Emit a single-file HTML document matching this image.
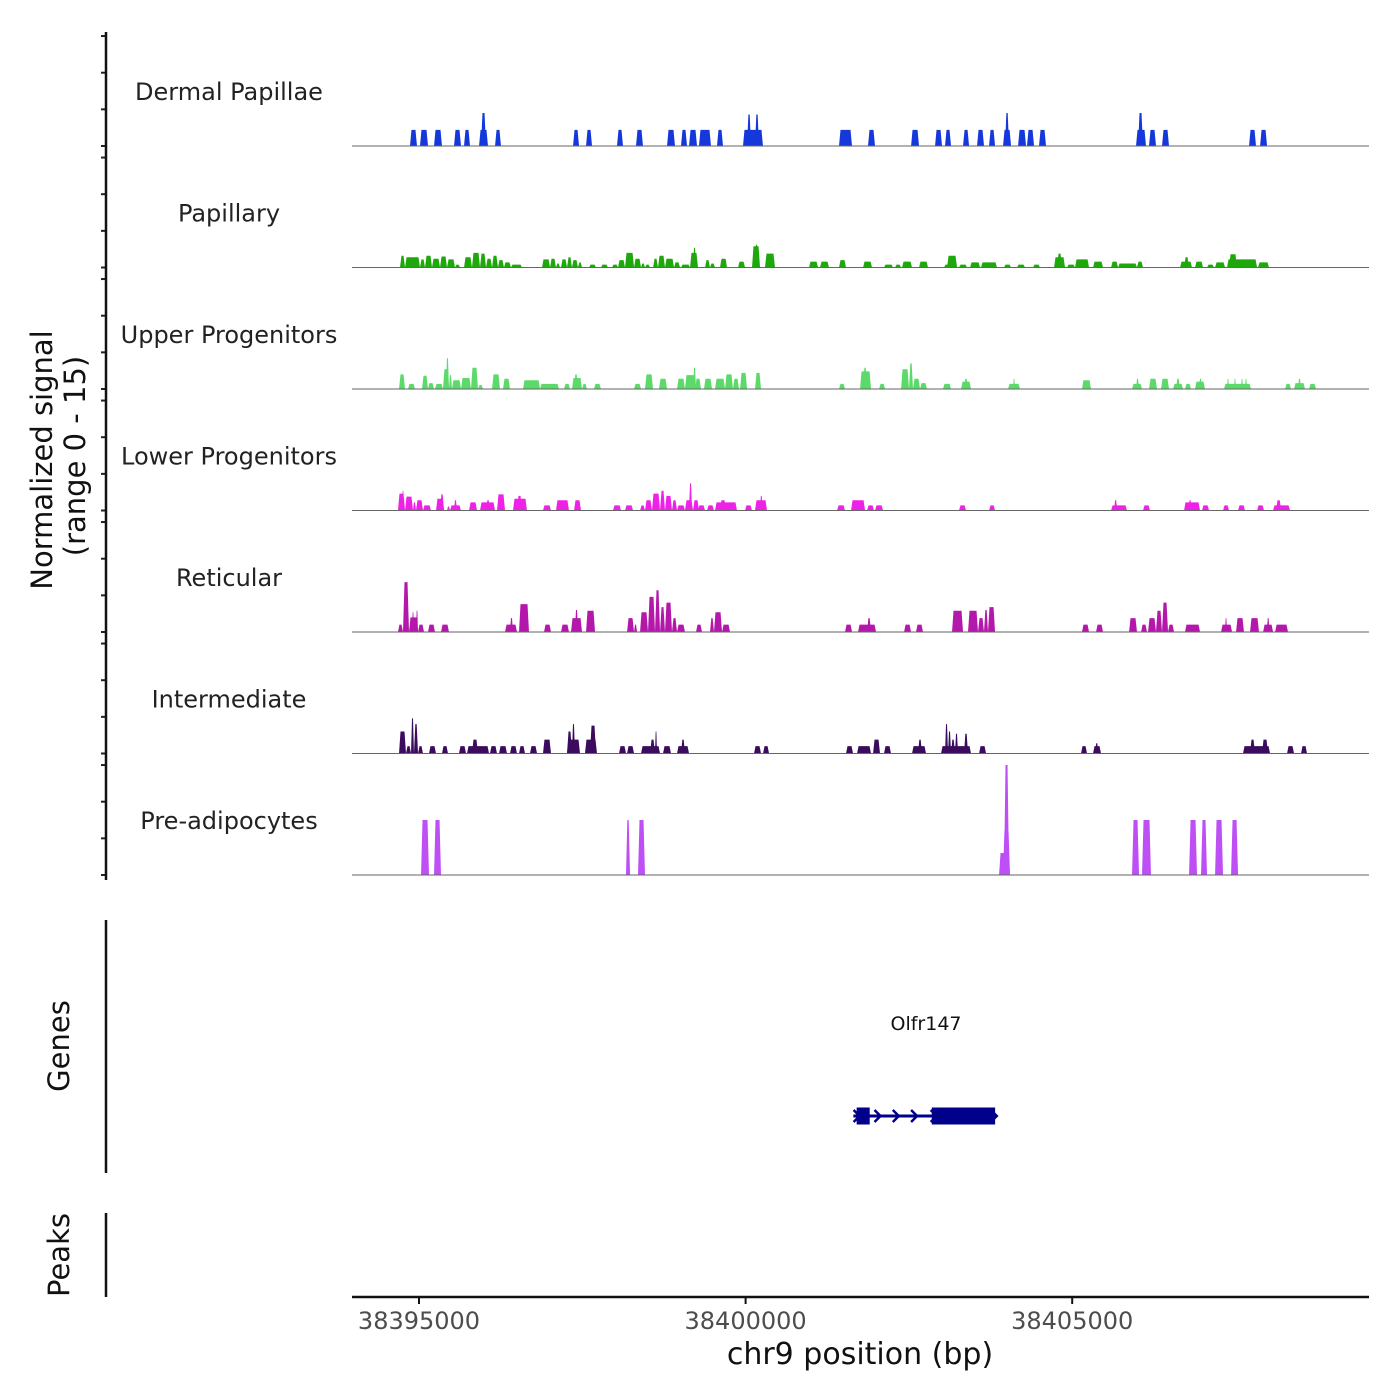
<!DOCTYPE html>
<html><head><meta charset="utf-8"><style>
html,body{margin:0;padding:0;background:#fff;}
svg{display:block;font-family:"DejaVu Sans","Liberation Sans",sans-serif;}
</style></head><body>
<svg id="chart" width="1400" height="1400" viewBox="0 0 1400 1400">
<g id="tracks"></g>
<g id="axes"></g>
</svg>
<script>
// ---- data (genomic offsets in bp relative to regionOrigin, signal 0-15) ----
const regionOrigin = 38395000;
const xTickValues = [38395000, 38400000, 38405000];
const xTickLabels = ["38395000", "38400000", "38405000"];
const yTickValues = [0, 5, 10, 15];
const trackNames = ["Dermal Papillae","Papillary","Upper Progenitors","Lower Progenitors","Reticular","Intermediate","Pre-adipocytes"];
const trackColors = ["#1538DB","#1EA80C","#5BDA6A","#EE22E6","#B418AA","#3B0C5E","#BE4FF5"];

const dermalPapillae = [[-138,-31,2.2],[15,138,2.2],[230,352,2.2],[536,643,2.2],[689,781,2.2],[919,1056,2.2],[949,1026,4.5],[1164,1255,2.2],[2358,2450,2.2],[2557,2649,2.2],[3031,3123,2.2],[3322,3429,2.2],[3797,3919,2.2],[4011,4103,2.2],[4134,4256,2.2],[4286,4470,2.2],[4562,4654,2.2],[4960,5266,2.2],[5022,5083,4.3],[5144,5205,4.3],[6430,6629,2.2],[6874,6981,2.2],[7533,7655,2.2],[7900,8007,2.2],[8053,8145,2.2],[8329,8421,2.2],[8543,8650,2.2],[8727,8819,2.2],[8941,9064,2.2],[8972,9033,4.5],[9171,9293,2.2],[9308,9416,2.2],[9492,9599,2.2],[10977,11130,2.2],[11008,11084,4.5],[11176,11283,2.2],[11375,11482,2.2],[12707,12814,2.2],[12876,12983,2.2]];

const papillary = [[-291,-214,1.6],[-214,15,1.4],[15,92,1.1],[92,199,1.6],[199,322,1.2],[322,429,1.5],[429,551,1.1],[551,628,0.4],[689,811,1.4],[811,934,2.0],[934,1026,1.9],[1026,1118,1.2],[1118,1209,1.6],[1209,1301,1.0],[1301,1408,0.7],[1408,1577,0.4],[1883,2006,1.1],[2006,2097,1.2],[2097,2159,0.55],[2174,2266,1.1],[2266,2342,1.4],[2342,2434,1.0],[2434,2496,0.7],[2603,2710,0.4],[2786,2893,0.4],[2955,3047,0.4],[3047,3154,1.0],[3154,3292,2.0],[3292,3399,1.2],[3399,3460,0.55],[3460,3537,0.4],[3583,3659,1.2],[3659,3766,1.6],[3766,3904,1.2],[3904,3996,0.7],[4011,4149,0.4],[4149,4271,2.0],[4195,4241,2.7],[4379,4455,1.0],[4455,4532,0.55],[4608,4716,1.2],[4884,4991,0.8],[5098,5221,2.9],[5144,5190,3.1],[5297,5450,1.9],[5971,6109,0.8],[6139,6277,0.8],[6430,6537,1.0],[6798,6936,0.8],[7119,7257,0.4],[7288,7380,0.4],[7395,7548,0.8],[7655,7793,0.8],[8038,8130,0.4],[8084,8237,1.6],[8267,8390,0.4],[8436,8589,0.7],[8604,8849,0.7],[8956,9064,0.4],[9155,9278,0.4],[9400,9507,0.4],[9722,9890,1.4],[9768,9844,1.9],[9921,10043,0.4],[10043,10258,1.1],[10319,10472,0.8],[10595,10702,0.8],[10702,10992,0.55],[10992,11084,0.8],[11651,11834,0.8],[11712,11789,1.4],[11880,12003,0.8],[12064,12171,0.4],[12187,12340,0.7],[12370,12830,1.1],[12401,12523,1.8],[12845,13013,0.7]];

const upperProgenitors = [[-306,-214,2.0],[-168,-61,0.7],[46,138,1.8],[138,230,0.8],[245,367,0.7],[367,459,2.7],[413,459,4.2],[459,505,1.9],[505,643,1.2],[643,796,1.5],[796,903,2.9],[903,980,0.55],[1118,1240,2.0],[1286,1393,1.4],[1592,1853,1.2],[1853,2143,0.7],[2220,2312,0.7],[2342,2496,1.5],[2373,2434,2.0],[2496,2572,0.7],[2679,2786,0.7],[3292,3399,0.7],[3460,3583,2.0],[3674,3797,1.4],[3950,4072,1.4],[4072,4226,1.9],[4195,4241,2.9],[4226,4317,1.4],[4363,4486,1.4],[4532,4685,1.4],[4685,4807,2.0],[4807,4899,1.4],[4915,5022,2.2],[5144,5236,2.2],[6430,6522,0.7],[6752,6920,2.4],[6798,6859,2.9],[7043,7135,0.7],[7380,7502,2.7],[7502,7563,3.5],[7563,7670,1.4],[7670,7777,0.8],[8022,8145,0.7],[8298,8451,1.0],[8344,8405,1.4],[9018,9201,0.7],[9094,9124,1.4],[10150,10288,1.2],[10916,11069,0.7],[10977,11023,1.4],[11176,11298,1.4],[11360,11482,1.4],[11543,11697,0.7],[11589,11651,1.4],[11727,11819,0.7],[11880,12033,1.0],[11941,11987,1.4],[12324,12738,0.7],[12370,12401,1.4],[12478,12508,1.4],[12585,12615,1.4],[12646,12676,1.4],[13259,13350,0.7],[13396,13564,0.8],[13457,13503,1.4],[13626,13733,0.7]];

const lowerProgenitors = [[-322,-214,2.3],[-260,-230,2.7],[-214,-92,1.9],[-92,-46,1.1],[-46,61,1.4],[61,184,0.7],[260,383,1.6],[322,383,2.2],[429,475,0.55],[475,643,0.7],[535,582,1.4],[766,888,1.1],[934,1164,1.1],[1026,1087,1.4],[1194,1317,2.2],[1439,1653,1.6],[1500,1577,2.0],[1898,2021,0.7],[2097,2296,1.4],[2373,2480,1.4],[2970,3093,0.7],[3154,3277,0.7],[3384,3460,0.7],[3460,3567,1.4],[3567,3690,2.3],[3690,3766,2.7],[3766,3873,2.0],[3873,3950,1.4],[3950,4072,0.7],[4072,4195,1.4],[4134,4180,3.7],[4195,4287,1.4],[4271,4379,0.7],[4409,4516,0.7],[4532,4868,1.1],[4607,4700,1.4],[4991,5098,0.7],[5144,5328,1.4],[5220,5260,2.0],[6400,6522,0.7],[6614,6829,1.4],[6859,6966,0.7],[6981,7104,0.7],[8267,8375,0.7],[8727,8819,0.7],[10595,10839,0.7],[10640,10690,1.4],[11084,11191,0.7],[11712,11957,1.1],[11780,11830,1.4],[11987,12095,0.7],[12309,12401,0.7],[12539,12646,0.7],[12830,12937,0.7],[13075,13335,0.7],[13120,13200,1.4]];

const reticular = [[-322,-245,1.0],[-245,-153,6.8],[-153,-15,2.0],[-107,-77,2.7],[-46,-15,2.9],[-15,77,1.0],[138,245,1.0],[337,459,1.0],[1317,1500,1.0],[1393,1439,1.9],[1531,1684,3.8],[1914,2021,1.0],[2174,2296,1.0],[2327,2496,1.9],[2388,2434,3.0],[2557,2695,2.9],[3185,3292,1.9],[3292,3338,1.0],[3384,3506,2.7],[3506,3613,4.8],[3613,3690,5.7],[3690,3766,3.4],[3766,3873,4.0],[3873,3950,1.9],[3950,4072,1.0],[4241,4333,1.0],[4455,4516,1.9],[4516,4639,2.7],[4639,4762,1.0],[6522,6630,1.0],[6721,6997,1.0],[6860,6920,1.9],[7426,7533,1.0],[7609,7716,1.0],[8160,8329,2.9],[8405,8558,2.9],[8558,8650,1.9],[8650,8711,3.0],[8711,8819,3.4],[10150,10258,1.0],[10365,10472,1.0],[10870,10992,1.9],[11054,11145,1.0],[11161,11283,1.9],[11283,11375,2.9],[11375,11467,4.0],[11467,11559,1.0],[11727,11957,1.0],[12279,12447,1.0],[12340,12370,1.9],[12508,12630,1.9],[12722,12860,1.9],[12922,13075,1.0],[12980,13020,1.9],[13106,13304,1.0]];

const intermediate = [[-306,-199,3.0],[-199,-122,1.0],[-122,-77,4.8],[-77,-15,4.0],[-15,61,1.0],[153,260,1.0],[352,444,1.0],[612,720,1.0],[735,1072,1.0],[811,903,1.9],[1087,1194,1.0],[1225,1347,1.0],[1393,1500,1.0],[1531,1623,1.0],[1699,1807,1.0],[1898,2021,1.9],[2266,2465,1.9],[2266,2342,3.0],[2342,2388,4.0],[2541,2725,1.9],[2618,2710,3.8],[3062,3169,1.0],[3185,3292,1.0],[3399,3690,1.0],[3537,3613,1.9],[3613,3644,3.0],[3736,3858,1.0],[3950,4134,1.0],[4011,4072,1.9],[5129,5236,1.0],[5267,5359,1.0],[6537,6645,1.0],[6706,6920,1.0],[6951,7058,1.9],[7119,7226,1.0],[7548,7762,1.0],[7640,7700,1.9],[7992,8451,1.0],[8053,8099,4.0],[8099,8145,3.0],[8145,8206,1.9],[8206,8252,2.7],[8344,8405,2.7],[8574,8681,1.0],[10135,10227,1.0],[10319,10441,1.0],[10350,10400,1.4],[12615,13029,1.0],[12722,12799,1.9],[12906,12998,1.9],[13289,13396,1.0],[13503,13595,1.0]];

const preAdipocytes = [[31,153,7.5],[230,337,7.5],[3169,3231,7.5],[3353,3460,7.5],[8880,9048,3.0],[8940,9048,6.0],[8956,9033,15],[10916,11023,7.5],[11069,11206,7.5],[11789,11911,7.5],[11972,12064,7.5],[12187,12309,7.5],[12432,12539,7.5]];

const trackData = [dermalPapillae, papillary, upperProgenitors, lowerProgenitors, reticular, intermediate, preAdipocytes];

const geneName = "Olfr147";
const geneStart = 38401650;
const geneEnd = 38403850;
const geneExons = [[38401700, 38401900], [38402850, 38403820]];

// ---- scales ----
const NS = "http://www.w3.org/2000/svg";
const plotLeft = 352, plotRight = 1369;
const pxPerBp = 326.6 / 5000;
function xScale(bp){ return 419 + (bp - 38395000) * pxPerBp; }
const firstBaseline = 146, trackStep = 121.5, pxPerUnit = 7.33;
function baseline(i){ return firstBaseline + i * trackStep; }
function yScale(i, v){ return baseline(i) - v * pxPerUnit; }

function mk(tag, attrs, parent){
  const el = document.createElementNS(NS, tag);
  for (const k in attrs) el.setAttribute(k, attrs[k]);
  parent.appendChild(el);
  return el;
}
const tracksG = document.getElementById('tracks');
const axesG = document.getElementById('axes');

trackData.forEach((segs, i) => {
  const g = mk('g', {}, tracksG);
  
  
  segs.forEach(s => {
    const x0 = xScale(regionOrigin + s[0]), x1 = xScale(regionOrigin + s[1]);
    const b = baseline(i), t = yScale(i, s[2]);
    const inset = Math.min(1.5, (x1 - x0) / 3);
    const p = mk('polygon', {points: `${x0},${b} ${x0+inset},${t} ${x1-inset},${t} ${x1},${b}`, fill: trackColors[i]}, g);
    
    
  });
  const bl = mk('line', {x1: plotLeft, x2: plotRight, y1: baseline(i), y2: baseline(i), stroke: '#666', 'stroke-width': 1}, g);
  
  
  const lab = mk('text', {x: 229, y: baseline(i) - 46, 'text-anchor': 'middle', 'font-size': 24, fill: '#222'}, g);
  lab.textContent = trackNames[i];
  
  
  yTickValues.forEach(v => {
    const tk = mk('line', {x1: 101, x2: 106, y1: yScale(i, v), y2: yScale(i, v), stroke: '#222', 'stroke-width': 2}, axesG);
    
    
  });
});

// left axes
[[32, 880], [920, 1173], [1213, 1297]].forEach(r => {
  const l = mk('line', {x1: 106, x2: 106, y1: r[0], y2: r[1], stroke: '#111', 'stroke-width': 2.5}, axesG);
  
  
});
function rotText(txt, x, y, name){
  const t = mk('text', {x: x, y: y, transform: `rotate(-90 ${x} ${y})`, 'text-anchor': 'middle', 'font-size': 29, fill: '#111'}, axesG);
  t.textContent = txt;
  
  
}
rotText('Normalized signal', 52, 460, 'y-axis-title');
rotText('(range 0 - 15)', 85, 456, 'y-axis-subtitle');
rotText('Genes', 69, 1046, 'genes-axis-title');
rotText('Peaks', 69, 1255, 'peaks-axis-title');

// gene track
const gg = mk('g', {}, tracksG);


const gy = 1116;
mk('line', {x1: xScale(geneStart), x2: xScale(geneEnd), y1: gy, y2: gy, stroke: '#00008B', 'stroke-width': 3}, gg);
geneExons.forEach(e => {
  const r = mk('rect', {x: xScale(e[0]), y: gy - 8.5, width: xScale(e[1]) - xScale(e[0]), height: 17, fill: '#00008B'}, gg);
  
  
});
[geneStart + 80, geneStart + 400, geneStart + 680, geneStart + 960, geneStart + 1260, geneEnd - 20].forEach(p => {
  const x = xScale(p);
  mk('polyline', {points: `${x-5},${gy-6} ${x+1},${gy} ${x-5},${gy+6}`, fill: 'none', stroke: '#00008B', 'stroke-width': 2.5}, gg);
});
const gl = mk('text', {x: 926, y: 1030, 'text-anchor': 'middle', 'font-size': 19, fill: '#111'}, gg);
gl.textContent = geneName;



// x axis
const xa = mk('line', {x1: plotLeft, x2: plotRight, y1: 1297, y2: 1297, stroke: '#111', 'stroke-width': 2.5}, axesG);


xTickValues.forEach((v, i) => {
  const x = xScale(v);
  const tk = mk('line', {x1: x, x2: x, y1: 1297, y2: 1304, stroke: '#111', 'stroke-width': 2}, axesG);
  
  
  const t = mk('text', {x: x, y: 1329, 'text-anchor': 'middle', 'font-size': 24, fill: '#4d4d4d'}, axesG);
  t.textContent = xTickLabels[i];
  
  
});
const xt = mk('text', {x: 860, y: 1364, 'text-anchor': 'middle', 'font-size': 30, fill: '#111'}, axesG);
xt.textContent = 'chr9 position (bp)';


</script>
</body></html>
